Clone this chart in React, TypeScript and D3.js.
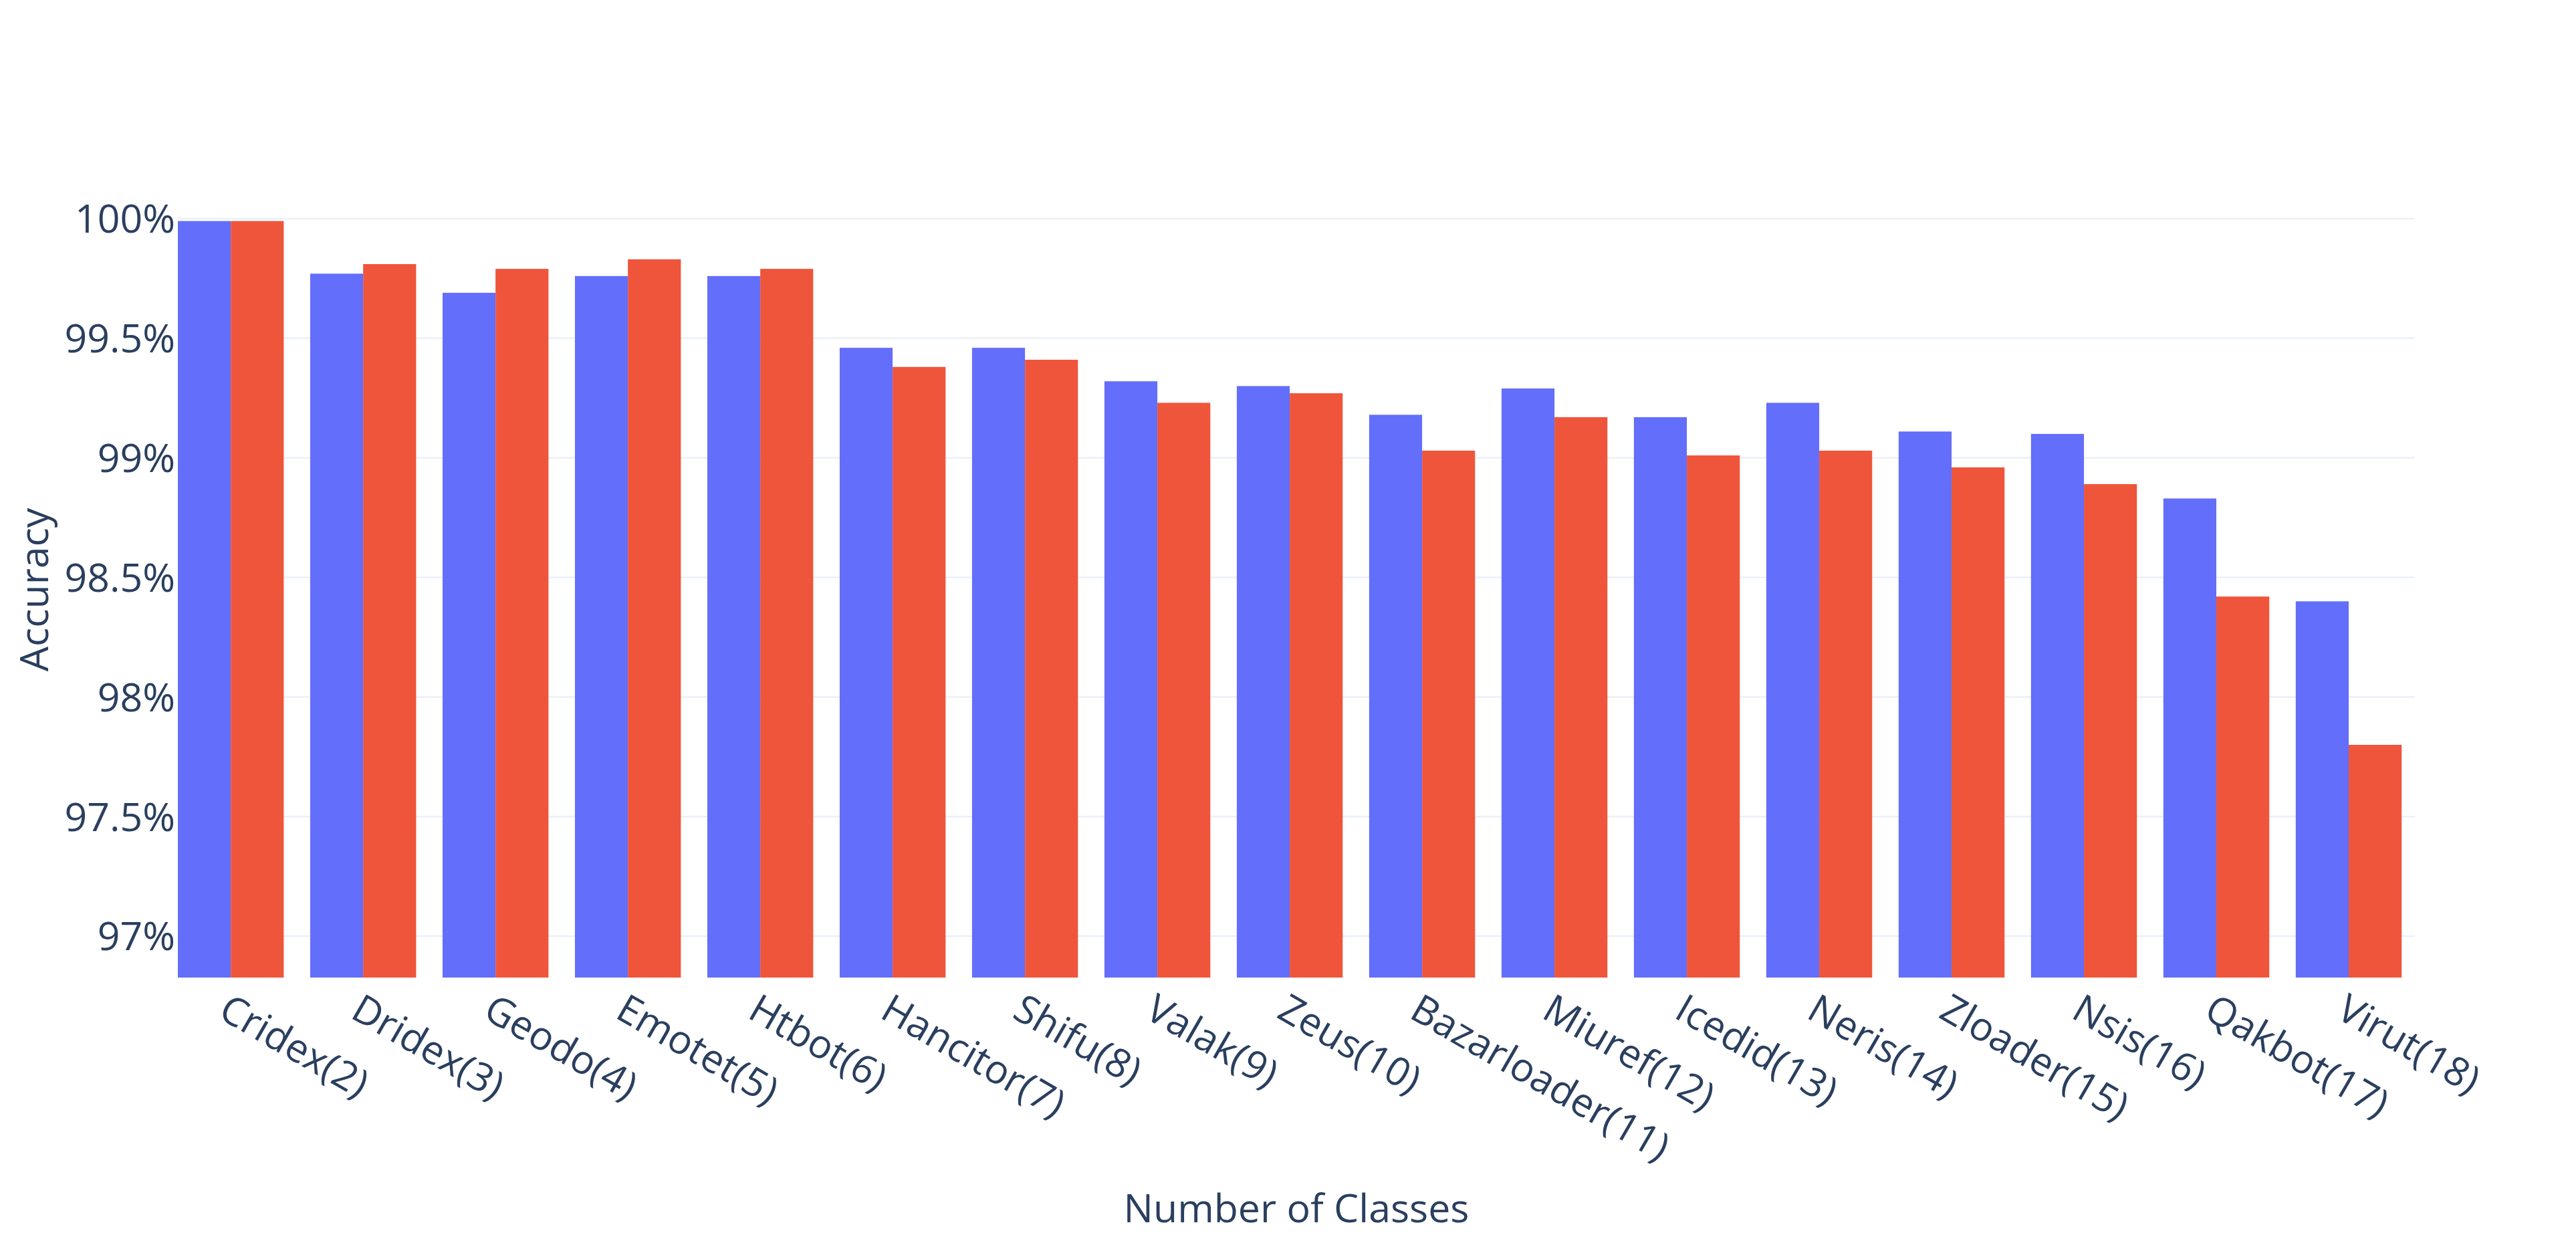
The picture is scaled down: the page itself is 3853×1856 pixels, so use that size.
import React from 'react'
import * as d3 from 'd3';

// malware families, with the number of classes in brackets
const categories = [
  'Cridex(2)', 'Dridex(3)', 'Geodo(4)', 'Emotet(5)', 'Htbot(6)', 'Hancitor(7)',
  'Shifu(8)', 'Valak(9)', 'Zeus(10)', 'Bazarloader(11)', 'Miuref(12)', 'Icedid(13)',
  'Neris(14)', 'Zloader(15)', 'Nsis(16)', 'Qakbot(17)', 'Virut(18)'
];

const blueSeries = [99.99, 99.77, 99.69, 99.76, 99.76, 99.46, 99.46, 99.32, 99.30, 99.18, 99.29, 99.17, 99.23, 99.11, 99.10, 98.83, 98.40];
const redSeries = [99.99, 99.81, 99.79, 99.83, 99.79, 99.38, 99.41, 99.23, 99.27, 99.03, 99.17, 99.01, 99.03, 98.96, 98.89, 98.42, 97.80];

const yTicks = [97, 97.5, 98, 98.5, 99, 99.5, 100];

const W = 3853;
const H = 1856;
const FONT = '"Open Sans", verdana, arial, sans-serif';
const TEXT = '#2a3f5f';

const App = () => {
  const x = d3.scaleLinear()
    .domain([-0.4, categories.length - 1 + 0.5])
    .range([266, 3612]);

  const y = d3.scaleLinear()
    .domain([96.827, 100])
    .range([1462, 327]);

  const half = 0.4;
  const bottom = y.range()[0];

  return (
    <svg width={W} height={H} style={{ position: 'absolute', left: 0, top: 0, background: '#fff' }}>
      <g>
        {yTicks.map((t) =>
          <line key={t} x1={x.range()[0]} x2={x.range()[1]} y1={y(t)} y2={y(t)} stroke='#EBF0F8' strokeWidth={2.5} />
        )}
      </g>

      <g>
        {blueSeries.map((v, i) =>
          <rect key={'b' + i} x={x(i - half)} y={y(v)} width={x(i) - x(i - half)} height={bottom - y(v)} fill='#636efa' />
        )}
        {redSeries.map((v, i) =>
          <rect key={'r' + i} x={x(i)} y={y(v)} width={x(i + half) - x(i)} height={bottom - y(v)} fill='#EF553B' />
        )}
      </g>

      <g fontFamily={FONT} fontSize={59} fill={TEXT}>
        {yTicks.map((t) =>
          <text key={t} x={262} y={y(t)} dy='0.36em' textAnchor='end'>{t + '%'}</text>
        )}
        {categories.map((c, i) =>
          <text key={c} transform={`translate(${x(i)},${1484}) rotate(30)`} dy='0.72em' textAnchor='start'>{c}</text>
        )}
        <text x={(x.range()[0] + x.range()[1]) / 2} y={1828} textAnchor='middle'>Number of Classes</text>
        <text transform={`translate(72,882) rotate(-90)`} textAnchor='middle'>Accuracy</text>
      </g>
    </svg>
  )
}

export default App
